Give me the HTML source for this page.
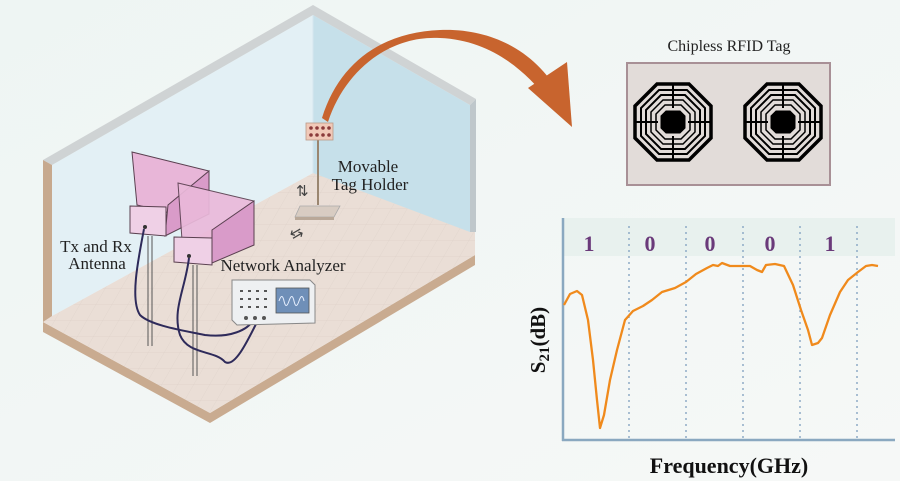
<!DOCTYPE html>
<html><head><meta charset="utf-8"><style>
html,body{margin:0;padding:0;background:#f1f6f4;}
svg{display:block;font-family:"Liberation Serif",serif;}
</style></head><body>
<svg width="900" height="481" viewBox="0 0 900 481" xmlns="http://www.w3.org/2000/svg">
<defs>
<linearGradient id="bg" x1="0" y1="0" x2="1" y2="1"><stop offset="0" stop-color="#eef5f3"/><stop offset="1" stop-color="#f6f8f7"/></linearGradient>
<pattern id="grid" width="16" height="16" patternUnits="userSpaceOnUse" patternTransform="skewX(-30)"><path d="M0 0H16V16" fill="none" stroke="#ddd0c8" stroke-width="0.6"/></pattern>
</defs>
<rect width="900" height="481" fill="url(#bg)"/>
<polygon points="43,322 210,413 475,255 475,265 210,423 43,332" fill="#c9ab90"/>
<polygon points="52,316 313,173 475,230 475,255 210,413 43,322" fill="#eaded6"/>
<polygon points="52,316 313,173 475,230 475,255 210,413 43,322" fill="url(#grid)"/>
<polygon points="52,165 313,15 313,173 52,316" fill="#e2eff4" opacity="0.95"/>
<polygon points="313,15 470,105 470,232 313,173" fill="#c6e0ea"/>
<polygon points="43,160 313,5 313,15 52,165" fill="#cfd3d4"/>
<polygon points="313,5 476,99 470,105 313,15" fill="#cfd3d4"/>
<polygon points="43,160 52,165 52,316 43,322" fill="#c7a98e"/>
<polygon points="470,105 476,99 476,232 470,232" fill="#bfc7cb"/>
<line x1="313" y1="15" x2="313" y2="173" stroke="#d5e6ee" stroke-width="1"/>
<!-- antenna 1 -->
<polygon points="132,152 209,171 209,214 170,213 137,205" fill="#e8b6d8" stroke="#5a4050" stroke-width="1"/>
<polygon points="209,171 209,214 165,236 168,205" fill="#d99bc9" stroke="#5a4050" stroke-width="1"/>
<polygon points="130,206 166,207 166,236 130,233" fill="#efd0e6" stroke="#5a4050" stroke-width="1"/>
<circle cx="145" cy="227" r="2" fill="#333"/>
<line x1="148" y1="236" x2="148" y2="346" stroke="#555" stroke-width="1"/>
<line x1="152" y1="236" x2="152" y2="346" stroke="#555" stroke-width="1"/>
<!-- antenna 2 -->
<polygon points="178,183 254,201 254,245 215,247 182,240" fill="#eab9da" stroke="#5a4050" stroke-width="1" opacity="0.92"/>
<polygon points="254,201 254,245 212,263 212,230" fill="#d99bc9" stroke="#5a4050" stroke-width="1"/>
<polygon points="174,237 212,238 212,265 174,262" fill="#efd0e6" stroke="#5a4050" stroke-width="1"/>
<circle cx="189" cy="256" r="2" fill="#333"/>
<line x1="193" y1="265" x2="193" y2="376" stroke="#555" stroke-width="1"/>
<line x1="197" y1="265" x2="197" y2="376" stroke="#555" stroke-width="1"/>
<path d="M144,229 C138,260 130,300 140,315 C150,325 180,330 205,335 C230,338 248,330 253,320" fill="none" stroke="#2e2a5a" stroke-width="2"/>
<path d="M189,258 C185,290 172,310 180,335 C188,355 215,350 225,362 C235,368 248,340 258,320" fill="none" stroke="#2e2a5a" stroke-width="2"/>
<!-- network analyzer -->
<polygon points="232,280 310,280 315,285 315,323 237,325 232,320" fill="#eef0f2" stroke="#888" stroke-width="1"/>
<rect x="276" y="288" width="33" height="25" fill="#6f8fb8" stroke="#555" stroke-width="0.8"/>
<path d="M279,301 q3,-9 5,0 t5,0 t5,0 t5,0 t5,0" fill="none" stroke="#e8f0ff" stroke-width="1"/>
<g fill="#555"><rect x="240" y="290" width="3" height="2"/><rect x="248" y="290" width="3" height="2"/><rect x="256" y="290" width="3" height="2"/><rect x="264" y="290" width="3" height="2"/><rect x="240" y="298" width="3" height="2"/><rect x="248" y="298" width="3" height="2"/><rect x="256" y="298" width="3" height="2"/><rect x="264" y="298" width="3" height="2"/><rect x="240" y="306" width="3" height="2"/><rect x="248" y="306" width="3" height="2"/><rect x="256" y="306" width="3" height="2"/><rect x="264" y="306" width="3" height="2"/><circle cx="246" cy="318" r="2"/><circle cx="255" cy="318" r="2"/><circle cx="264" cy="318" r="2"/></g>
<!-- tag holder -->
<line x1="318" y1="138" x2="318" y2="205" stroke="#9a8670" stroke-width="2"/>
<rect x="306" y="123" width="27" height="17" fill="#f1c9b8" stroke="#b98" stroke-width="0.8"/>
<g fill="#8b3a3a"><circle cx="311" cy="128" r="1.8"/><circle cx="317" cy="128" r="1.8"/><circle cx="323" cy="128" r="1.8"/><circle cx="329" cy="128" r="1.8"/><circle cx="311" cy="135" r="1.8"/><circle cx="317" cy="135" r="1.8"/><circle cx="323" cy="135" r="1.8"/><circle cx="329" cy="135" r="1.8"/></g>
<polygon points="300,206 340,206 334,217 295,217" fill="#d8ccc2" stroke="#aaa" stroke-width="0.8"/>
<polygon points="295,217 334,217 334,220 295,220" fill="#b9a898"/>
<text x="296" y="196" font-size="15" fill="#444">⇅</text>
<text x="290" y="238" font-size="15" fill="#444" transform="rotate(-30 297 233)">⇆</text>
<!-- labels -->
<text x="96" y="252" font-size="17" text-anchor="middle" fill="#222">Tx and Rx</text>
<text x="97" y="269" font-size="17" text-anchor="middle" fill="#222">Antenna</text>
<text x="368" y="172" font-size="17" text-anchor="middle" fill="#222">Movable</text>
<text x="370" y="190" font-size="17" text-anchor="middle" fill="#222">Tag Holder</text>
<text x="283" y="271" font-size="17" text-anchor="middle" fill="#222">Network Analyzer</text>
<!-- big arrow -->
<path d="M328,122 C345,70 390,35 440,38 C490,40 525,70 548,100 L560,95 C535,50 490,28 440,30 C385,32 340,60 322,118 Z" fill="#c8642e"/>
<polygon points="528,88 567,62 572,127" fill="#c8642e"/>
<!-- tag box -->
<text x="729" y="51" font-size="16" text-anchor="middle" fill="#222">Chipless RFID Tag</text>
<rect x="627" y="63" width="203" height="122" fill="#e2dcd9" stroke="#a89096" stroke-width="2"/>
<g id="oct" fill="none" stroke="#000">
<polygon points="657,84 689,84 711,106 711,138 689,160 657,160 635,138 635,106" stroke-width="3.5"/>
<polygon points="659,90 687,90 705,108 705,136 687,154 659,154 641,136 641,108" stroke-width="2"/>
<polygon points="661,95 685,95 700,110 700,134 685,149 661,149 646,134 646,110" stroke-width="2"/>
<polygon points="663,100 683,100 695,112 695,132 683,144 663,144 651,132 651,112" stroke-width="1.5"/>
<polygon points="665,105 681,105 690,114 690,130 681,139 665,139 656,130 656,114" stroke-width="1.5"/>
<polygon points="666,111 680,111 685,116 685,128 680,133 666,133 661,128 661,116" fill="#000" stroke-width="1"/>
<line x1="673" y1="84" x2="673" y2="108" stroke-width="2"/><line x1="673" y1="136" x2="673" y2="160" stroke-width="2"/>
<line x1="635" y1="122" x2="658" y2="122" stroke-width="2"/><line x1="688" y1="122" x2="711" y2="122" stroke-width="2"/>
</g>
<use href="#oct" transform="translate(110,0)"/>
<!-- chart -->
<rect x="563" y="218" width="332" height="38" fill="#e8f1ee"/>
<line x1="563" y1="218" x2="563" y2="441" stroke="#8aa8c0" stroke-width="2.5"/>
<line x1="562" y1="440" x2="895" y2="440" stroke="#8aa8c0" stroke-width="2.5"/>
<g stroke="#7f9fbf" stroke-width="1.3" stroke-dasharray="2,4"><line x1="629" y1="226" x2="629" y2="438"/><line x1="686" y1="226" x2="686" y2="438"/><line x1="743" y1="226" x2="743" y2="438"/><line x1="800" y1="226" x2="800" y2="438"/><line x1="857" y1="226" x2="857" y2="438"/></g>
<g font-size="22" font-weight="bold" fill="#6a3a7a" text-anchor="middle"><text x="589" y="251">1</text><text x="650" y="251">0</text><text x="710" y="251">0</text><text x="770" y="251">0</text><text x="830" y="251">1</text></g>
<polyline points="564,305 570,294 577,291 582,295 588,320 593,360 597,400 600,428 604,415 610,380 617,350 625,320 633,311 643,306 652,300 662,292 675,288 686,282 696,274 707,268 713,265 718,266 722,263 730,266 750,266 757,270 762,272 766,265 775,264 784,266 793,285 801,310 808,330 812,345 818,343 822,338 830,315 840,292 848,280 858,272 866,266 872,265 878,266" fill="none" stroke="#f08a1c" stroke-width="2.3" stroke-linejoin="round"/>
<text x="545" y="340" font-size="21" font-weight="bold" fill="#111" text-anchor="middle" transform="rotate(-90 545 340)">S<tspan font-size="15" dy="4">21</tspan><tspan dy="-4">(dB)</tspan></text>
<text x="729" y="473" font-size="22" font-weight="bold" fill="#111" text-anchor="middle">Frequency(GHz)</text>
</svg>
</body></html>
